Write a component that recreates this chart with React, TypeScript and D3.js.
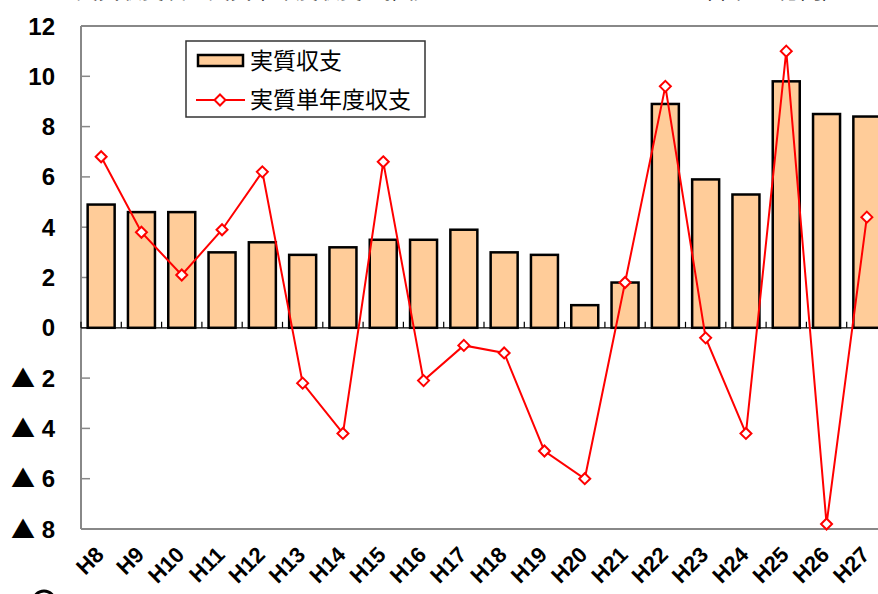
import React from "react";
import * as d3 from "d3";

const categories = ["H8","H9","H10","H11","H12","H13","H14","H15","H16","H17","H18","H19","H20","H21","H22","H23","H24","H25","H26","H27"];
const realBalance = [4.9,4.6,4.6,3.0,3.4,2.9,3.2,3.5,3.5,3.9,3.0,2.9,0.9,1.8,8.9,5.9,5.3,9.8,8.5,8.4];
const singleYearBalance = [6.8,3.8,2.1,3.9,6.2,-2.2,-4.2,6.6,-2.1,-0.7,-1.0,-4.9,-6.0,1.8,9.6,-0.4,-4.2,11.0,-7.8,4.4];
const yTicks = [-8,-6,-4,-2,0,2,4,6,8,10,12];
const seriesNames = ["実質収支","実質単年度収支"];
const titleText = "実質収支及び実質単年度収支の推移";
const unitText = "（単位：億円）";

export default function App() {
  const W = 878, H = 594;
  const left = 81, top = 26, bottom = 529;
  const bandW = 40.3;
  const right = left + bandW * categories.length;
  const x = d3.scaleBand<string>().domain(categories).range([left, right]).paddingInner(0.33).paddingOuter(0.165);
  const y = d3.scaleLinear().domain([-8, 12]).range([bottom, top]);
  const xc = (c: string) => (x(c) as number) + x.bandwidth() / 2;
  const line = d3.line<number>().x((_, i) => xc(categories[i])).y(d => y(d));
  const diamond = (cx: number, cy: number, r: number) => `M${cx},${cy - r}L${cx + r},${cy}L${cx},${cy + r}L${cx - r},${cy}Z`;
  const boundaries = d3.range(categories.length + 1).map(i => left + i * bandW);
  const lblFont = "'Liberation Sans', Arial, sans-serif";
  const jpFont = "'Noto Sans CJK JP', sans-serif";
  return (
    <svg width={W} height={H} style={{ position: "absolute", left: 0, top: 0, background: "#fff" }}>
      <rect x={0} y={0} width={W} height={H} fill="#fff" />
      {/* title, cut off at the top edge as in the source */}
      <text x={76} y={-2} fontFamily={jpFont} fontSize={22} fill="#000">{titleText}</text>
      <text x={690} y={-2} fontFamily={jpFont} fontSize={22} fill="#000">{unitText}</text>
      {/* plot frame */}
      <line x1={left} x2={W} y1={top} y2={top} stroke="#888" strokeWidth={2} />
      <line x1={left} x2={W} y1={bottom} y2={bottom} stroke="#888" strokeWidth={2} />
      <line x1={left} x2={left} y1={top} y2={bottom} stroke="#888" strokeWidth={2} />
      {yTicks.map(t => (
        <g key={t}>
          <line x1={left} x2={left + 9} y1={y(t)} y2={y(t)} stroke="#888" strokeWidth={1.5} />
          <text x={55} y={y(t) + 8.5} textAnchor="end" fontFamily={lblFont} fontWeight="bold" fontSize={24} fill="#000">
            {t < 0 ? <tspan fontFamily={jpFont} fontWeight="normal">▲</tspan> : null}
            {t < 0 ? " " + Math.abs(t) : String(t)}
          </text>
        </g>
      ))}
      {/* bars */}
      {categories.map((c, i) => (
        <rect key={c} x={x(c)} y={y(realBalance[i])} width={x.bandwidth()} height={y(0) - y(realBalance[i])}
          fill="#ffcc99" stroke="#000" strokeWidth={2.5} />
      ))}
      {/* zero axis */}
      <line x1={left} x2={W} y1={y(0)} y2={y(0)} stroke="#000" strokeWidth={1.2} />
      {boundaries.map((b, i) => (
        <line key={i} x1={b} x2={b} y1={y(0) - 6} y2={y(0)} stroke="#000" strokeWidth={1.2} />
      ))}
      {/* line series */}
      <path d={line(singleYearBalance) || ""} fill="none" stroke="#ff0000" strokeWidth={2} />
      {categories.map((c, i) => (
        <path key={c} d={diamond(xc(c), y(singleYearBalance[i]), 5.5)} fill="#fff" stroke="#ff0000" strokeWidth={2} />
      ))}
      {/* x labels */}
      {categories.map(c => (
        <text key={c} transform={`translate(${xc(c) + 4},${556}) rotate(-45)`} textAnchor="end"
          fontFamily={lblFont} fontWeight="bold" fontSize={22} fill="#000">{c}</text>
      ))}
      {/* legend */}
      <rect x={186} y={41} width={239} height={76} fill="#fff" stroke="#333" strokeWidth={1.5} />
      <rect x={198} y={55} width={45} height={11} fill="#ffcc99" stroke="#000" strokeWidth={2.5} />
      <text x={250} y={69} fontFamily={jpFont} fontSize={23} fill="#000">{seriesNames[0]}</text>
      <line x1={196} x2={245} y1={100} y2={100} stroke="#ff0000" strokeWidth={2} />
      <path d={diamond(220, 100, 5.5)} fill="#fff" stroke="#ff0000" strokeWidth={2} />
      <text x={250} y={108} fontFamily={jpFont} fontSize={23} fill="#000">{seriesNames[1]}</text>
      {/* cut-off glyph bottom-left */}
      <circle cx={44} cy={602} r={11} fill="none" stroke="#000" strokeWidth={3} />
    </svg>
  );
}
